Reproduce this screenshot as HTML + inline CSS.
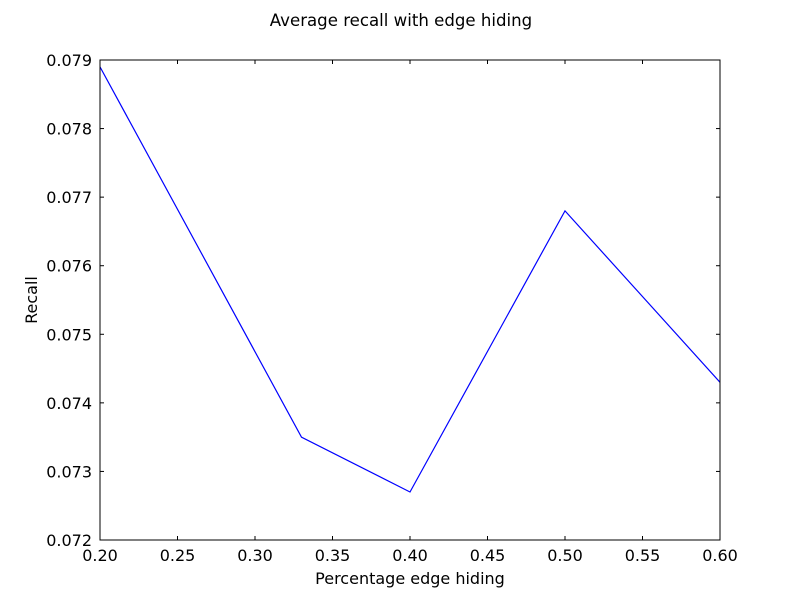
<!DOCTYPE html>
<html><head><meta charset="utf-8"><style>
html,body{margin:0;padding:0;background:#fff;}
svg text{font-family:"DejaVu Sans","Liberation Sans",sans-serif;}
</style></head><body>
<svg id="chart" width="800" height="600" xmlns="http://www.w3.org/2000/svg">
<rect width="800" height="600" fill="#fff"/>
<text x="401" y="26" text-anchor="middle" font-size="16.6">Average recall with edge hiding</text>
<g id="ticks"></g>
<path id="line" fill="none" stroke="#0000ff" stroke-width="1.2"/>
<rect x="100" y="60" width="620" height="480" fill="none" stroke="#000" stroke-width="1"/>
<text x="410" y="584" text-anchor="middle" font-size="16">Percentage edge hiding</text>
<text x="37" y="300" text-anchor="middle" font-size="16" transform="rotate(-90 37 300)">Recall</text>
</svg>
<script>
const xValues = [0.2, 0.33, 0.4, 0.5, 0.6];
const recallValues = [0.0789, 0.0735, 0.0727, 0.0768, 0.0743];
const xTicks = [0.2, 0.25, 0.3, 0.35, 0.4, 0.45, 0.5, 0.55, 0.6];
const xTickLabels = ["0.20","0.25","0.30","0.35","0.40","0.45","0.50","0.55","0.60"];
const yTicks = [0.072, 0.073, 0.074, 0.075, 0.076, 0.077, 0.078, 0.079];
const yTickLabels = ["0.072","0.073","0.074","0.075","0.076","0.077","0.078","0.079"];

const L=100,R=720,T=60,B=540;
function xs(v){return L+(v-0.2)/(0.6-0.2)*(R-L);}
function ys(v){return B-(v-0.072)/(0.079-0.072)*(B-T);}
const NS="http://www.w3.org/2000/svg";
const g=document.getElementById('ticks');
function mk(tag,attrs){const e=document.createElementNS(NS,tag);for(const k in attrs)e.setAttribute(k,attrs[k]);return e;}
xTicks.forEach((v,i)=>{
  const x=xs(v);
  const t1=mk('line',{x1:x,x2:x,y1:B,y2:B-4,stroke:'#000'});
  
  
  g.appendChild(t1);
  const t2=mk('line',{x1:x,x2:x,y1:T,y2:T+4,stroke:'#000'});
  
  
  g.appendChild(t2);
  const tx=mk('text',{x:x,y:B+21,'text-anchor':'middle','font-size':16});
  tx.textContent=xTickLabels[i];
  
  
  g.appendChild(tx);
});
yTicks.forEach((v,i)=>{
  const y=ys(v);
  const t1=mk('line',{x1:L,x2:L+4,y1:y,y2:y,stroke:'#000'});
  
  
  g.appendChild(t1);
  const t2=mk('line',{x1:R,x2:R-4,y1:y,y2:y,stroke:'#000'});
  
  
  g.appendChild(t2);
  const tx=mk('text',{x:L-8,y:y+6,'text-anchor':'end','font-size':16});
  tx.textContent=yTickLabels[i];
  
  
  g.appendChild(tx);
});
document.getElementById('line').setAttribute('d',xValues.map((v,i)=>(i?'L':'M')+xs(v)+','+ys(recallValues[i])).join(' '));
</script>
</body></html>
